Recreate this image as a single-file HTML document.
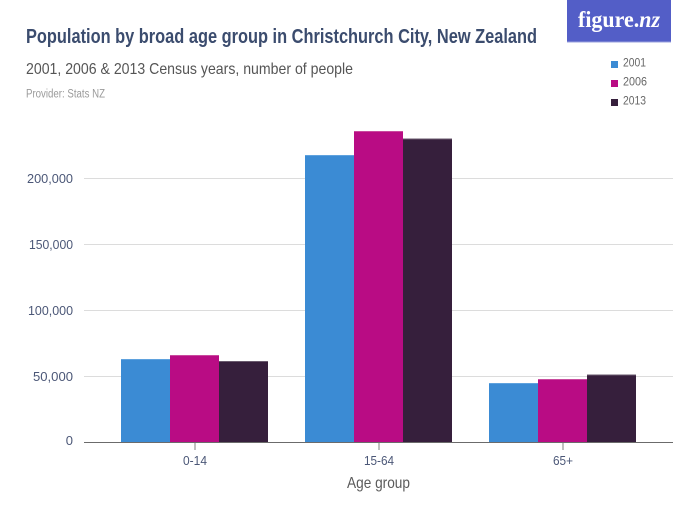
<!DOCTYPE html>
<html>
<head>
<meta charset="utf-8">
<style>
html,body{margin:0;padding:0;background:#fff;}
svg{display:block;}
text{font-family:"Liberation Sans",sans-serif;}
</style>
</head>
<body>
<svg width="700" height="525" viewBox="0 0 700 525" xmlns="http://www.w3.org/2000/svg">
  <rect width="700" height="525" fill="#fff"/>

  <!-- Title block -->
  <text x="26" y="43" font-size="20" font-weight="bold" fill="#3b4c6e" textLength="511" lengthAdjust="spacingAndGlyphs">Population by broad age group in Christchurch City, New Zealand</text>
  <text x="26" y="74" font-size="16" fill="#555555" textLength="327" lengthAdjust="spacingAndGlyphs">2001, 2006 &amp; 2013 Census years, number of people</text>
  <text x="26" y="97.5" font-size="11.5" fill="#9a9a9a" textLength="79" lengthAdjust="spacingAndGlyphs">Provider: Stats NZ</text>

  <!-- Logo -->
  <rect x="567" y="0" width="104" height="41.5" fill="#535ec7"/>
  <rect x="567" y="41.5" width="104" height="1" fill="#9aa0de"/>
  <text x="578" y="27" style="font-family:'Liberation Serif',serif;font-size:23px;font-weight:bold;" fill="#ffffff" textLength="82" lengthAdjust="spacingAndGlyphs">figure.<tspan style="font-style:italic">nz</tspan></text>

  <!-- Legend -->
  <rect x="611" y="61" width="7" height="7" fill="#3b8bd4"/>
  <text x="623" y="66.7" font-size="11.5" fill="#666" textLength="23" lengthAdjust="spacingAndGlyphs">2001</text>
  <rect x="611" y="80" width="7" height="7" fill="#b90c84"/>
  <text x="623" y="85.7" font-size="11.5" fill="#666" textLength="24" lengthAdjust="spacingAndGlyphs">2006</text>
  <rect x="611" y="99" width="7" height="7" fill="#361f3c"/>
  <text x="623" y="104.7" font-size="11.5" fill="#666" textLength="23" lengthAdjust="spacingAndGlyphs">2013</text>

  <!-- Gridlines -->
  <g stroke="#dcdcdc" stroke-width="1">
    <line x1="84" y1="376.5" x2="673" y2="376.5"/>
    <line x1="84" y1="310.5" x2="673" y2="310.5"/>
    <line x1="84" y1="244.5" x2="673" y2="244.5"/>
    <line x1="84" y1="178.5" x2="673" y2="178.5"/>
  </g>

  <!-- Y labels -->
  <g font-size="13" fill="#4b5777" text-anchor="end">
    <text x="73" y="445">0</text>
    <text x="73" y="381" textLength="40" lengthAdjust="spacingAndGlyphs">50,000</text>
    <text x="73" y="315" textLength="45" lengthAdjust="spacingAndGlyphs">100,000</text>
    <text x="73" y="249" textLength="44" lengthAdjust="spacingAndGlyphs">150,000</text>
    <text x="73" y="183" textLength="46" lengthAdjust="spacingAndGlyphs">200,000</text>
  </g>

  <!-- Bars: 0-14 -->
  <rect x="121" y="359" width="49" height="83" fill="#3b8bd4"/>
  <rect x="170" y="355" width="49" height="87" fill="#b90c84"/>
  <rect x="219" y="361" width="49" height="81" fill="#361f3c"/>
  <!-- 15-64 -->
  <rect x="305" y="155" width="49" height="287" fill="#3b8bd4"/>
  <rect x="354" y="131" width="49" height="311" fill="#b90c84"/>
  <rect x="403" y="138.5" width="49" height="303.5" fill="#361f3c"/>
  <!-- 65+ -->
  <rect x="489" y="383" width="49" height="59" fill="#3b8bd4"/>
  <rect x="538" y="379" width="49" height="63" fill="#b90c84"/>
  <rect x="587" y="374.5" width="49" height="67.5" fill="#361f3c"/>

  <!-- bar top highlights -->
  <g stroke-width="1">
    <line x1="121" y1="359.5" x2="170" y2="359.5" stroke="#5fa2de"/>
    <line x1="170" y1="355.5" x2="219" y2="355.5" stroke="#c94a9e"/>
    <line x1="219" y1="361.5" x2="268" y2="361.5" stroke="#6a5a6e"/>
    <line x1="305" y1="155.5" x2="354" y2="155.5" stroke="#5fa2de"/>
    <line x1="354" y1="131.5" x2="403" y2="131.5" stroke="#c94a9e"/>
    <line x1="403" y1="139" x2="452" y2="139" stroke="#6a5a6e"/>
    <line x1="489" y1="383.5" x2="538" y2="383.5" stroke="#5fa2de"/>
    <line x1="538" y1="379.5" x2="587" y2="379.5" stroke="#c94a9e"/>
    <line x1="587" y1="375" x2="636" y2="375" stroke="#6a5a6e"/>
  </g>

  <!-- X axis -->
  <line x1="84" y1="442.5" x2="673" y2="442.5" stroke="#6b6b6b" stroke-width="1"/>
  <g stroke="#aaaaaa" stroke-width="1.5">
    <line x1="195" y1="443" x2="195" y2="450"/>
    <line x1="379" y1="443" x2="379" y2="450"/>
    <line x1="563" y1="443" x2="563" y2="450"/>
  </g>
  <g font-size="13" fill="#4b5777" text-anchor="middle">
    <text x="195" y="465" textLength="24" lengthAdjust="spacingAndGlyphs">0-14</text>
    <text x="379" y="465" textLength="30" lengthAdjust="spacingAndGlyphs">15-64</text>
    <text x="563" y="465" textLength="20" lengthAdjust="spacingAndGlyphs">65+</text>
  </g>
  <text x="378.5" y="488" font-size="16" fill="#5a5a5a" text-anchor="middle" textLength="63" lengthAdjust="spacingAndGlyphs">Age group</text>
</svg>
</body>
</html>
